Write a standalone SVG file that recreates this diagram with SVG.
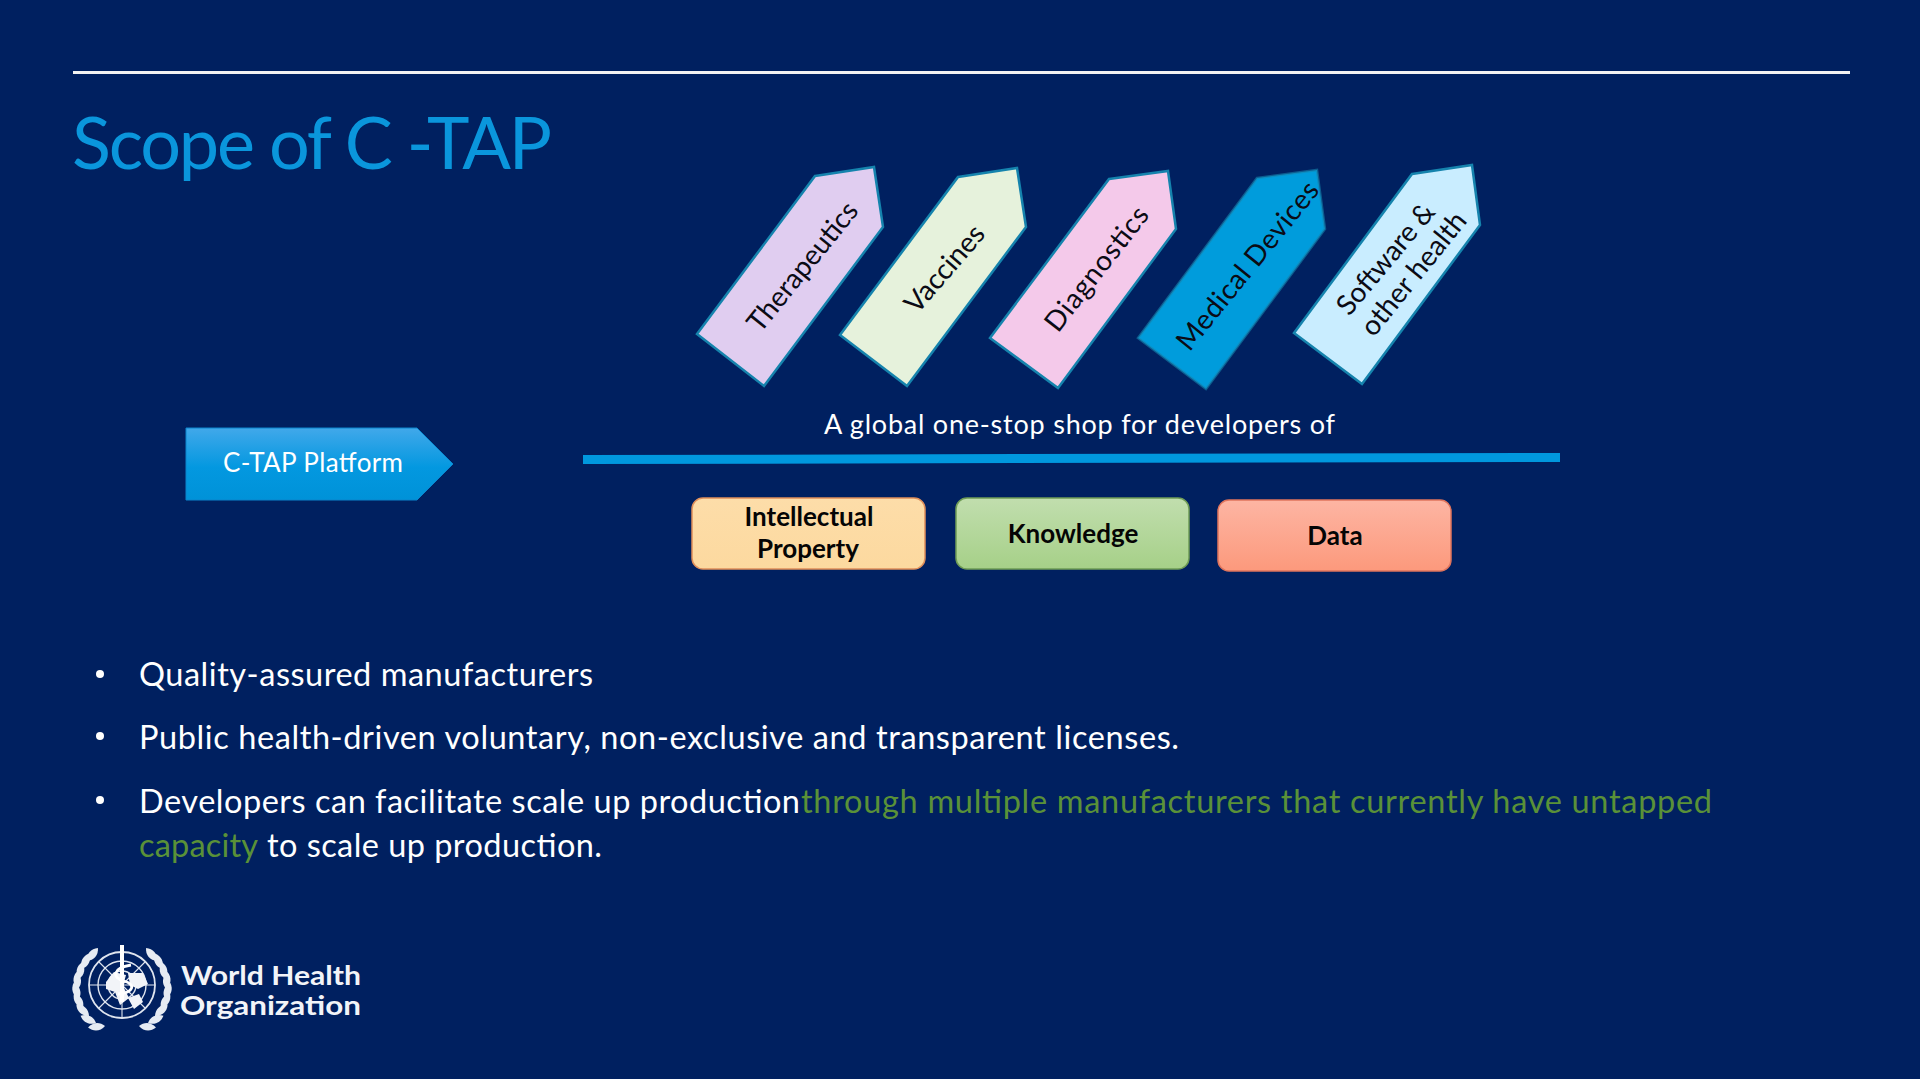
<svg xmlns="http://www.w3.org/2000/svg" xmlns:xlink="http://www.w3.org/1999/xlink" width="1920" height="1079" viewBox="0 0 1920 1079">
<defs>
<linearGradient id="gp" x1="0" y1="0" x2="0" y2="1"><stop offset="0" stop-color="#41a8ea"/><stop offset="0.55" stop-color="#0398e0"/><stop offset="1" stop-color="#0092d8"/></linearGradient>
<linearGradient id="gi" x1="0" y1="0" x2="0" y2="1"><stop offset="0" stop-color="#fddda9"/><stop offset="1" stop-color="#fcd99f"/></linearGradient>
<linearGradient id="gk" x1="0" y1="0" x2="0" y2="1"><stop offset="0" stop-color="#c1deae"/><stop offset="1" stop-color="#a6d088"/></linearGradient>
<linearGradient id="gd" x1="0" y1="0" x2="0" y2="1"><stop offset="0" stop-color="#fdb5a3"/><stop offset="1" stop-color="#fc997c"/></linearGradient>
<filter id="soft" x="-5%" y="-5%" width="110%" height="110%"><feGaussianBlur stdDeviation="0.7"/></filter>
<path id="leaf" d="M0 0C5 -5 12 -5 17 0C12 5 5 5 0 0Z" fill="#e6ebf3"/>
</defs>
<style>
text{font-family:"Lato","Open Sans","Liberation Sans",sans-serif}
.arrow{stroke:#1583ad;stroke-width:2.5;stroke-linejoin:miter}
.lab{font-size:28px;fill:#0b0b14;text-anchor:middle}
.box{stroke-width:1.5}
.boxt{font-size:26px;font-weight:700;fill:#050505;text-anchor:middle}
.body{font-size:32.5px;fill:#ffffff}
.green{fill:#5a9138}
.bul{fill:#ffffff}
</style>
<rect width="1920" height="1079" fill="#002060"/>
<rect x="73" y="71" width="1777" height="3" fill="#f2f2f2"/>
<text x="72" y="169" font-size="72" fill="#0a96dc" textLength="480" lengthAdjust="spacing">Scope of C -TAP</text>

<g id="node-therapeutics">
<polygon class="arrow" fill="#e0cdf0" points="815,176 874,167 883,227 764,386 697,334"/>
<text class="lab" transform="translate(803,267) rotate(-51)" y="9" textLength="158" lengthAdjust="spacing">Therapeutics</text>
</g>
<g id="node-vaccines">
<polygon class="arrow" fill="#e6f2dc" points="958,177 1017,168 1026,227 907,386 840,335"/>
<text class="lab" transform="translate(945,269) rotate(-49)" y="9" textLength="106" lengthAdjust="spacing">Vaccines</text>
</g>
<g id="node-diagnostics">
<polygon class="arrow" fill="#f4c9ea" points="1109,179 1168,171 1176,229 1058,388 990,338"/>
<text class="lab" transform="translate(1097,269) rotate(-52)" y="9" textLength="150" lengthAdjust="spacing">Diagnostics</text>
</g>
<g id="node-medical-devices">
<polygon class="arrow" fill="#009cdc" stroke-opacity="0.6" points="1257,178 1317,170 1325,229 1206,389 1138,338"/>
<text class="lab" transform="translate(1248,266) rotate(-51)" y="9" textLength="208" lengthAdjust="spacing">Medical Devices</text>
</g>
<g id="node-software">
<polygon class="arrow" fill="#c9edff" points="1412,174 1472,165 1480,225 1362,384 1294,333"/>
<text class="lab" transform="translate(1386,259) rotate(-50)" y="9" textLength="136" lengthAdjust="spacing">Software &amp;</text>
<text class="lab" transform="translate(1414,274) rotate(-51)" y="9" textLength="150" lengthAdjust="spacing">other health</text>
</g>

<g id="node-platform">
<polygon fill="url(#gp)" stroke="#0a84cc" stroke-width="1" points="186,428 417,428 453,464 417,500 186,500"/>
<text x="223" y="472" font-size="26" fill="#ffffff" textLength="180" lengthAdjust="spacing">C-TAP Platform</text>
</g>

<g id="tagline">
<text x="824" y="434" font-size="27" fill="#ffffff" textLength="511" lengthAdjust="spacing">A global one-stop shop for developers of</text>
<polygon fill="#0098de" points="583,455 1560,453 1560,462 583,464"/>
</g>

<g id="node-ip">
<rect class="box" x="692" y="498" width="233" height="71" rx="11" fill="url(#gi)" stroke="#e08f5a"/>
<text class="boxt" x="809" y="526">Intellectual</text>
<text class="boxt" x="808" y="558">Property</text>
</g>
<g id="node-knowledge">
<rect class="box" x="956" y="498" width="233" height="71" rx="11" fill="url(#gk)" stroke="#6f9c55"/>
<text class="boxt" x="1073" y="543">Knowledge</text>
</g>
<g id="node-data">
<rect class="box" x="1218" y="500" width="233" height="71" rx="11" fill="url(#gd)" stroke="#e0745c"/>
<text class="boxt" x="1335" y="545">Data</text>
</g>

<g id="bullets">
<circle class="bul" cx="100" cy="674" r="4"/>
<text class="body" x="139" y="686" textLength="454" lengthAdjust="spacing">Quality-assured manufacturers</text>
<circle class="bul" cx="100" cy="736" r="4"/>
<text class="body" x="139" y="749" textLength="1040" lengthAdjust="spacing">Public health-driven voluntary, non-exclusive and transparent licenses.</text>
<circle class="bul" cx="100" cy="800" r="4"/>
<text class="body" x="139" y="813" textLength="661" lengthAdjust="spacing">Developers can facilitate scale up production</text>
<text class="body green" x="801" y="813" textLength="911" lengthAdjust="spacing">through multiple manufacturers that currently have untapped</text>
<text class="body green" x="139" y="857" textLength="119" lengthAdjust="spacing">capacity</text>
<text class="body" x="267" y="857" textLength="335" lengthAdjust="spacing">to scale up production.</text>
</g>

<g id="logo">
<g filter="url(#soft)">
<g fill="none" stroke="#dfe5ef">
<circle cx="122" cy="985" r="33" stroke-width="1.8"/>
<circle cx="122" cy="985" r="24" stroke-width="1.4"/>
<circle cx="122" cy="985" r="14" stroke-width="1.4"/>
<path d="M89 985H155M122 952V1018M99 962L145 1008M145 962L99 1008" stroke-width="1.1"/>
</g>
<path d="M106 982l8 -10 12 3 -3 11 6 12 -9 7 -5 -13 -9 -3z M128 973l15 0 5 11 -10 5 -8 -4z M128 998l11 -4 4 8 -9 7z" fill="#f2f4f8"/>
<path d="M122 945V1002" stroke="#ffffff" stroke-width="4" fill="none"/>
<path d="M131 965C112 968 112 978 124 981C136 984 134 993 118 994" stroke="#ffffff" stroke-width="2.8" fill="none"/>
<g id="laurel-left">
<use xlink:href="#leaf" href="#leaf" transform="translate(105,1026) rotate(175)"/>
<use xlink:href="#leaf" href="#leaf" transform="translate(96,1023) rotate(205)"/>
<use xlink:href="#leaf" href="#leaf" transform="translate(89,1016) rotate(222)"/>
<use xlink:href="#leaf" href="#leaf" transform="translate(83,1008) rotate(238)"/>
<use xlink:href="#leaf" href="#leaf" transform="translate(79,999) rotate(252)"/>
<use xlink:href="#leaf" href="#leaf" transform="translate(78,989) rotate(265)"/>
<use xlink:href="#leaf" href="#leaf" transform="translate(79,979) rotate(280)"/>
<use xlink:href="#leaf" href="#leaf" transform="translate(82,969) rotate(295)"/>
<use xlink:href="#leaf" href="#leaf" transform="translate(87,961) rotate(310)"/>
</g>
<g id="laurel-right">
<use xlink:href="#leaf" href="#leaf" transform="translate(139,1026) rotate(5)"/>
<use xlink:href="#leaf" href="#leaf" transform="translate(148,1023) rotate(-25)"/>
<use xlink:href="#leaf" href="#leaf" transform="translate(155,1016) rotate(-42)"/>
<use xlink:href="#leaf" href="#leaf" transform="translate(161,1008) rotate(-58)"/>
<use xlink:href="#leaf" href="#leaf" transform="translate(165,999) rotate(-72)"/>
<use xlink:href="#leaf" href="#leaf" transform="translate(166,989) rotate(-85)"/>
<use xlink:href="#leaf" href="#leaf" transform="translate(165,979) rotate(-100)"/>
<use xlink:href="#leaf" href="#leaf" transform="translate(162,969) rotate(-115)"/>
<use xlink:href="#leaf" href="#leaf" transform="translate(157,961) rotate(-130)"/>
</g>
</g>
<text x="181" y="985" font-size="27" font-weight="700" fill="#f2f4f8" textLength="180" lengthAdjust="spacingAndGlyphs">World Health</text>
<text x="180" y="1015" font-size="27" font-weight="700" fill="#f2f4f8" textLength="181" lengthAdjust="spacingAndGlyphs">Organization</text>
</g>
</svg>
